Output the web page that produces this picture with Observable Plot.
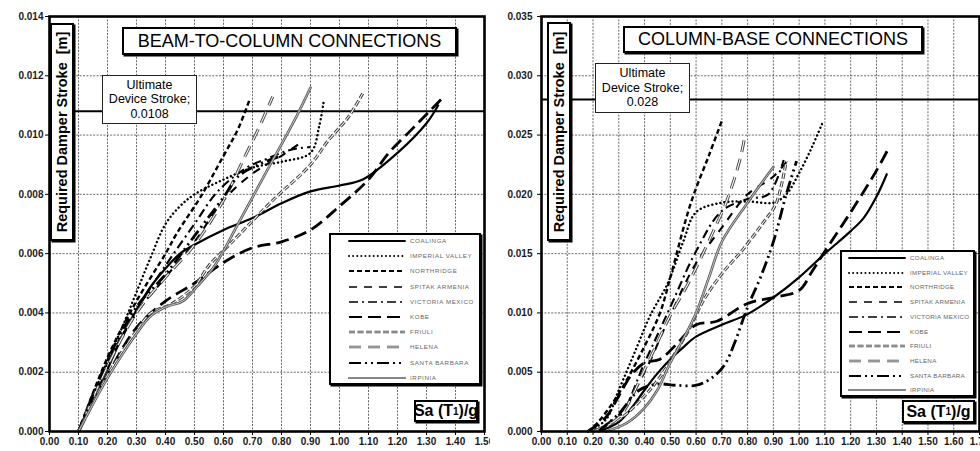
<!DOCTYPE html>
<html>
<head>
<meta charset="utf-8">
<script src="https://cdn.jsdelivr.net/npm/d3@7"></script>
<script src="https://cdn.jsdelivr.net/npm/@observablehq/plot@0.6"></script>
<style>
  body { margin: 0; background: #fff; }
  #fig { position: relative; width: 980px; height: 451px; overflow: hidden; background: #fff;
         font-family: "Liberation Sans", Arial, sans-serif; color: #000; }
  .panel { position: absolute; top: 0; }
  .panel svg { display: block; }
  .box { position: absolute; background: #fff; box-sizing: border-box; }
  .title { border: 2px solid #000; box-shadow: 1.5px 1.5px 0 #000; font-size: 18px;
           display: flex; align-items: center; justify-content: center; white-space: nowrap; }
  .limit { border: 1px solid #222; font-size: 12.5px; line-height: 14.5px; text-align: center;
           display: flex; align-items: center; justify-content: center; }
  .ylab { border: 2px solid #000; box-shadow: 1.5px 1.5px 0 #000; }
  .ylab span { position: absolute; left: 50%; top: 50%; transform: translate(-50%, -50%) rotate(-90deg);
               white-space: nowrap; font-weight: bold; font-size: 14.5px; }
  .legend { border: 2px solid #000; box-shadow: 1.5px 1.5px 0 #000; }
  .sa { border: 2px solid #000; box-shadow: 1.5px 1.5px 0 #000; font-weight: bold; font-size: 16px;
        display: flex; align-items: center; justify-content: center; white-space: nowrap; }
  .sa sub { font-size: 10px; }
  .entry { position: absolute; font-size: 6.2px; color: #666; white-space: nowrap; }
  .sample { position: absolute; overflow: visible; }
</style>
</head>
<body>
<div id="fig"></div>
<script>
// Earthquake records, in legend order
const records = ["COALINGA", "IMPERIAL VALLEY", "NORTHRIDGE", "SPITAK ARMENIA", "VICTORIA MEXICO",
                 "KOBE", "FRIULI", "HELENA", "SANTA BARBARA", "IRPINIA"];

// Beam-to-column connections: [Sa(T1)/g, required stroke in m]
const beamCoalinga = [[0.10,0],[0.15,0.0011],[0.20,0.0021],[0.25,0.0032],[0.30,0.0041],[0.35,0.0049],[0.40,0.0055],[0.45,0.0060],[0.50,0.0063],[0.60,0.0068],[0.70,0.0072],[0.80,0.0077],[0.90,0.0081],[1.00,0.0083],[1.08,0.0085],[1.20,0.0094],[1.30,0.0104],[1.34,0.0110]];
const beamImperialValley = [[0.10,0],[0.15,0.0012],[0.20,0.0024],[0.25,0.0035],[0.30,0.0047],[0.35,0.0059],[0.40,0.0070],[0.45,0.0076],[0.50,0.0080],[0.60,0.0085],[0.70,0.0089],[0.80,0.0091],[0.90,0.0094],[0.93,0.0103],[0.945,0.0111]];
const beamNorthridge = [[0.10,0],[0.20,0.0025],[0.30,0.0044],[0.40,0.0060],[0.44,0.0067],[0.52,0.0079],[0.60,0.0093],[0.65,0.0102],[0.69,0.0112]];
const beamSpitak = [[0.10,0],[0.20,0.0022],[0.30,0.0040],[0.40,0.0052],[0.50,0.0064],[0.60,0.0078],[0.70,0.0087],[0.80,0.0093],[0.86,0.0097]];
const beamVictoria = [[0.10,0],[0.20,0.0023],[0.30,0.0041],[0.40,0.0056],[0.50,0.0070],[0.58,0.0081],[0.68,0.0089],[0.75,0.0092],[0.83,0.0095],[0.90,0.0096]];
const beamKobe = [[0.10,0],[0.20,0.0019],[0.30,0.0035],[0.40,0.0044],[0.50,0.0050],[0.60,0.0057],[0.70,0.0062],[0.80,0.0064],[0.90,0.0068],[1.00,0.0076],[1.10,0.0085],[1.17,0.0094],[1.25,0.0102],[1.31,0.0108],[1.35,0.0112]];
const beamFriuli = [[0.10,0],[0.20,0.0019],[0.30,0.0034],[0.35,0.0040],[0.42,0.0043],[0.50,0.0049],[0.55,0.0056],[0.61,0.0062],[0.66,0.0067],[0.77,0.0078],[0.90,0.0090],[0.96,0.0098],[1.03,0.0106],[1.08,0.0114]];
const beamHelena = [[0.10,0],[0.20,0.0022],[0.30,0.0040],[0.40,0.0052],[0.50,0.0063],[0.60,0.0078],[0.67,0.0092],[0.72,0.0102],[0.77,0.0113]];
const beamSantaBarbara = [[0.10,0],[0.20,0.0024],[0.30,0.0042],[0.40,0.0053],[0.50,0.0066],[0.60,0.0079],[0.65,0.0086],[0.72,0.0090],[0.80,0.0093]];
const beamIrpinia = [[0.10,0],[0.20,0.0018],[0.30,0.0033],[0.35,0.0039],[0.40,0.0042],[0.46,0.0044],[0.51,0.0049],[0.57,0.0056],[0.65,0.0070],[0.75,0.0088],[0.85,0.0106],[0.90,0.0116]];

// Column-base connections: [Sa(T1)/g, required stroke in m]
const baseCoalinga = [[0.22,0],[0.30,0.0008],[0.35,0.0020],[0.40,0.0035],[0.45,0.0049],[0.50,0.0061],[0.55,0.0071],[0.60,0.0080],[0.70,0.0090],[0.80,0.0099],[0.90,0.0113],[1.00,0.0130],[1.10,0.0150],[1.20,0.0169],[1.25,0.0180],[1.30,0.0198],[1.34,0.0217]];
const baseImperialValley = [[0.18,0],[0.25,0.0010],[0.30,0.0035],[0.37,0.0071],[0.42,0.0097],[0.49,0.0125],[0.55,0.0160],[0.60,0.0185],[0.70,0.0193],[0.80,0.0194],[0.90,0.0193],[0.95,0.0200],[1.00,0.0218],[1.05,0.0240],[1.09,0.0260]];
const baseNorthridge = [[0.18,0],[0.22,0.0008],[0.30,0.0032],[0.40,0.0072],[0.46,0.0100],[0.50,0.0130],[0.58,0.0193],[0.65,0.0233],[0.70,0.0262]];
const baseSpitak = [[0.20,0],[0.30,0.0014],[0.40,0.0050],[0.50,0.0098],[0.60,0.0142],[0.70,0.0172],[0.80,0.0200],[0.90,0.0215],[0.96,0.0230]];
const baseVictoria = [[0.20,0],[0.30,0.0012],[0.40,0.0058],[0.50,0.0105],[0.60,0.0152],[0.70,0.0186],[0.80,0.0196],[0.88,0.0200],[0.94,0.0229]];
const baseKobe = [[0.18,0],[0.25,0.0012],[0.30,0.0030],[0.35,0.0048],[0.40,0.0058],[0.46,0.0061],[0.53,0.0075],[0.60,0.0090],[0.68,0.0093],[0.80,0.0108],[0.90,0.0113],[1.00,0.0119],[1.05,0.0135],[1.10,0.0152],[1.20,0.0185],[1.30,0.0220],[1.35,0.0240]];
const baseFriuli = [[0.20,0],[0.30,0.0010],[0.40,0.0030],[0.47,0.0049],[0.51,0.0063],[0.57,0.0085],[0.63,0.0111],[0.70,0.0133],[0.78,0.0153],[0.86,0.0176],[0.91,0.0192],[0.95,0.0228]];
const baseHelena = [[0.20,0],[0.30,0.0012],[0.40,0.0052],[0.50,0.0098],[0.57,0.0125],[0.62,0.0147],[0.68,0.0175],[0.72,0.0195],[0.77,0.0229],[0.79,0.0250]];
const baseSantaBarbara = [[0.22,0],[0.30,0.0015],[0.38,0.0035],[0.45,0.0040],[0.52,0.0039],[0.60,0.0039],[0.66,0.0045],[0.71,0.0056],[0.75,0.0075],[0.80,0.0105],[0.85,0.0130],[0.90,0.0160],[0.95,0.0200],[0.99,0.0228]];
const baseIrpinia = [[0.25,0],[0.33,0.0007],[0.40,0.0020],[0.45,0.0035],[0.50,0.0058],[0.55,0.0078],[0.60,0.0100],[0.65,0.0130],[0.70,0.0160],[0.80,0.0193],[0.90,0.0223]];

// Ultimate device strokes [m]
const beamLimit = 0.0108;
const baseLimit = 0.028;

// Axis ticks
const beamXTicks = [0,0.1,0.2,0.3,0.4,0.5,0.6,0.7,0.8,0.9,1.0,1.1,1.2,1.3,1.4,1.5];
const beamYTicks = [0,0.002,0.004,0.006,0.008,0.010,0.012,0.014];
const baseXTicks = [0,0.1,0.2,0.3,0.4,0.5,0.6,0.7,0.8,0.9,1.0,1.1,1.2,1.3,1.4,1.5,1.6,1.7];
const baseYTicks = [0,0.005,0.010,0.015,0.020,0.025,0.030,0.035];

const beamSeries = [beamCoalinga, beamImperialValley, beamNorthridge, beamSpitak, beamVictoria,
                    beamKobe, beamFriuli, beamHelena, beamSantaBarbara, beamIrpinia];
const baseSeries = [baseCoalinga, baseImperialValley, baseNorthridge, baseSpitak, baseVictoria,
                    baseKobe, baseFriuli, baseHelena, baseSantaBarbara, baseIrpinia];

// Line style for each record (same order as records)
const lineStyles = [
  {stroke: "#000", width: 2.2, dash: null, cap: "round"},
  {stroke: "#000", width: 2.4, dash: "0.1,4", cap: "round"},
  {stroke: "#000", width: 2.4, dash: "5,3", cap: "butt"},
  {stroke: "#000", width: 2.1, dash: "8,7", cap: "butt"},
  {stroke: "#000", width: 2.1, dash: "9,4,2,4", cap: "butt"},
  {stroke: "#000", width: 2.8, dash: "13,6", cap: "butt"},
  {stroke: "#3a3a3a", width: 3.0, dash: "6,2.5", cap: "butt", inner: "#fff"},
  {stroke: "#4a4a4a", width: 3.0, dash: "12,7", cap: "butt", inner: "#fff"},
  {stroke: "#000", width: 2.8, dash: "12,4,2,4,2,4", cap: "butt"},
  {stroke: "#5a5a5a", width: 2.6, dash: null, cap: "round", inner: "#d0d0d0"}
];

function seriesMarks(seriesList) {
  const marks = [];
  seriesList.forEach((pts, i) => {
    const st = lineStyles[i];
    const rows = pts.map(([x, y]) => ({record: records[i], x, y}));
    marks.push(Plot.line(rows, {x: "x", y: "y", curve: "catmull-rom", stroke: st.stroke,
      strokeWidth: st.width, strokeDasharray: st.dash, strokeLinecap: st.cap, strokeLinejoin: "round"}));
    if (st.inner) {
      marks.push(Plot.line(rows, {x: "x", y: "y", curve: "catmull-rom", stroke: st.inner,
        strokeWidth: st.width * 0.35, strokeDasharray: st.dash, strokeLinecap: st.cap, strokeLinejoin: "round"}));
    }
  });
  return marks;
}

function drawPanel({left, width, marginLeft, marginRight, xMax, yMax, xTicks, yTicks, yDigits, series, limit, yTickPadding}) {
  const grid = {stroke: "#111", strokeOpacity: 0.85, strokeWidth: 0.75, strokeDasharray: "2,1.4"};
  const chart = Plot.plot({
    width, height: 451,
    marginLeft, marginRight, marginTop: 16, marginBottom: 20,
    style: {fontFamily: "'Liberation Sans', Arial, sans-serif", fontSize: "10px", fontWeight: "bold",
            color: "#1a1a1a", background: "#fff", overflow: "hidden"},
    x: {domain: [0, xMax], label: null},
    y: {domain: [0, yMax], label: null},
    marks: [
      Plot.gridX(xTicks.filter(t => t > 0 && t < xMax), grid),
      Plot.gridY(yTicks.filter(t => t > 0 && t < yMax), grid),
      Plot.axisX(xTicks, {tickSize: 4, tickPadding: 2, tickFormat: d => d.toFixed(2), label: null, stroke: "#000"}),
      Plot.axisY(yTicks, {tickSize: 4, tickPadding: yTickPadding, tickFormat: d => d.toFixed(yDigits), label: null, stroke: "#000"}),
      Plot.ruleY([limit], {stroke: "#000", strokeWidth: 2}),
      ...seriesMarks(series),
      Plot.frame({stroke: "#000", strokeWidth: 2.6})
    ]
  });
  const wrap = document.createElement("div");
  wrap.className = "panel";
  wrap.style.left = left + "px";
  wrap.appendChild(chart);
  document.getElementById("fig").appendChild(wrap);
}

function addBox(cls, l, t, w, h, html) {
  const d = document.createElement("div");
  d.className = "box " + cls;
  Object.assign(d.style, {left: l + "px", top: t + "px", width: w + "px", height: h + "px"});
  if (html) d.innerHTML = html;
  document.getElementById("fig").appendChild(d);
  return d;
}

function addLegend(l, t, w, h, firstY, step, lineX0, lineX1, textX, spacing) {
  addBox("legend", l, t, w, h);
  const fig = document.getElementById("fig");
  records.forEach((name, i) => {
    const st = lineStyles[i];
    const y = firstY + i * step;
    const svg = document.createElementNS("http://www.w3.org/2000/svg", "svg");
    svg.setAttribute("class", "sample");
    svg.setAttribute("width", lineX1 - lineX0);
    svg.setAttribute("height", 8);
    Object.assign(svg.style, {left: lineX0 + "px", top: (y - 4) + "px"});
    const mk = (stroke, sw) => {
      const ln = document.createElementNS("http://www.w3.org/2000/svg", "line");
      ln.setAttribute("x1", 0); ln.setAttribute("x2", lineX1 - lineX0);
      ln.setAttribute("y1", 4); ln.setAttribute("y2", 4);
      ln.setAttribute("stroke", stroke);
      ln.setAttribute("stroke-width", sw);
      ln.setAttribute("stroke-linecap", st.cap);
      if (st.dash) ln.setAttribute("stroke-dasharray", st.dash);
      svg.appendChild(ln);
    };
    mk(st.stroke, st.width * 0.8);
    if (st.inner) mk(st.inner, st.width * 0.28);
    fig.appendChild(svg);
    const tx = document.createElement("div");
    tx.className = "entry";
    tx.textContent = name;
    Object.assign(tx.style, {left: textX + "px", top: (y - 4) + "px", letterSpacing: spacing + "px"});
    fig.appendChild(tx);
  });
}

// Left panel: beam-to-column
drawPanel({left: 0, width: 490, marginLeft: 49, marginRight: 6, xMax: 1.5, yMax: 0.014,
           xTicks: beamXTicks, yTicks: beamYTicks, yDigits: 3, series: beamSeries, limit: beamLimit, yTickPadding: 2});
// Right panel: column-base
drawPanel({left: 490, width: 490, marginLeft: 51, marginRight: 1, xMax: 1.7, yMax: 0.035,
           xTicks: baseXTicks, yTicks: baseYTicks, yDigits: 3, series: baseSeries, limit: baseLimit, yTickPadding: 5});

// Annotations, left panel
addBox("title", 122, 27, 335, 28, "BEAM-TO-COLUMN CONNECTIONS");
addBox("limit", 102, 75, 95, 49, "Ultimate<br>Device Stroke;<br>" + beamLimit);
addBox("ylab", 50, 23, 24, 218, "<span>Required Damper Stroke&nbsp; [m]</span>");
addLegend(329, 233, 152, 152, 241, 15.2, 349, 405, 410, 0.6);
addBox("sa", 414, 400, 64, 22, "Sa (T<sub>1</sub>)/g");

// Annotations, right panel
addBox("title", 623, 26, 300, 27, "COLUMN-BASE CONNECTIONS");
addBox("limit", 595, 63, 95, 50, "Ultimate<br>Device Stroke;<br>" + baseLimit);
addBox("ylab", 547, 22, 24, 219, "<span>Required Damper Stroke&nbsp; [m]</span>");
addLegend(840, 250, 135, 147, 258, 14.7, 849, 905, 910, 0.3);
addBox("sa", 902, 400, 73, 23, "Sa (T<sub>1</sub>)/g");
</script>
</body>
</html>
